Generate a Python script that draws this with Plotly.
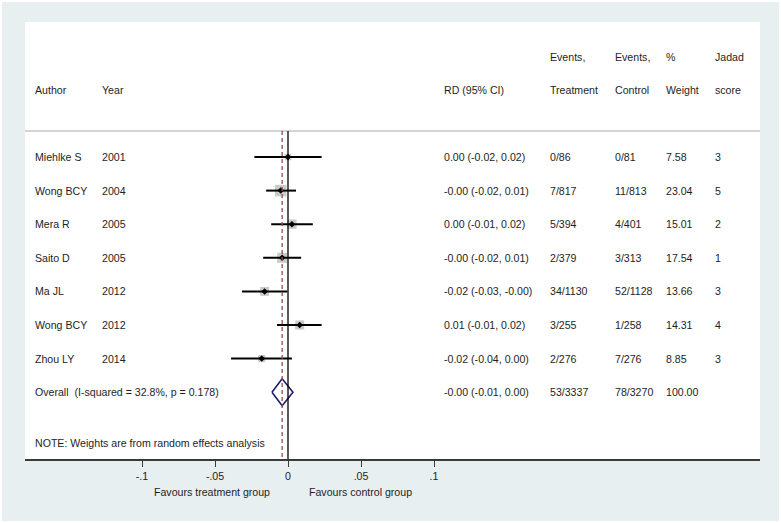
import plotly.graph_objects as go

# ---------------- data ----------------
authors = ["Miehlke S", "Wong BCY", "Mera R", "Saito D", "Ma JL", "Wong BCY", "Zhou LY"]
years = ["2001", "2004", "2005", "2005", "2012", "2012", "2014"]
rd = [0.000, -0.005, 0.0027, -0.0040, -0.016, 0.008, -0.018]
ci_lo = [-0.023, -0.015, -0.0115, -0.017, -0.0315, -0.0075, -0.039]
ci_hi = [0.023, 0.0055, 0.017, 0.009, -0.0005, 0.023, 0.0027]
rd_text = ["0.00 (-0.02, 0.02)", "-0.00 (-0.02, 0.01)", "0.00 (-0.01, 0.02)",
           "-0.00 (-0.02, 0.01)", "-0.02 (-0.03, -0.00)", "0.01 (-0.01, 0.02)",
           "-0.02 (-0.04, 0.00)"]
events_t = ["0/86", "7/817", "5/394", "2/379", "34/1130", "3/255", "2/276"]
events_c = ["0/81", "11/813", "4/401", "3/313", "52/1128", "1/258", "7/276"]
weights = [7.58, 23.04, 15.01, 17.54, 13.66, 14.31, 8.85]
jadad = ["3", "5", "2", "1", "3", "4", "3"]

overall_label = "Overall  (I-squared = 32.8%, p = 0.178)"
overall_rd = -0.004
overall_lo = -0.011
overall_hi = 0.0034
overall_text = "-0.00 (-0.01, 0.00)"
overall_t = "53/3337"
overall_c = "78/3270"
overall_w = "100.00"

tick_vals = [-0.1, -0.05, 0, 0.05, 0.1]
tick_text = ["-.1", "-.05", "0", ".05", ".1"]

note = "NOTE: Weights are from random effects analysis"
fav_left = "Favours treatment group"
fav_right = "Favours control group"

# ---------------- layout helpers ----------------
W, H = 781, 523
L, R, T, B = 25, 760, 22, 459          # plot area in pixels
X0_PX, SCALE = 288.0, 1460.0           # pixel of x=0, px per unit
ROW1_PX, PITCH = 157.0, 33.6           # pixel of row 1, px per row


def px2x(px):
    return (px - X0_PX) / SCALE


def py2row(py):
    return 1 + (py - ROW1_PX) / PITCH


def py2paper(py):
    return (B - py) / (B - T)


FONT = "Liberation Sans, Arial, sans-serif"
TXT = "#1e1e1e"
FS = 10.6

n = len(authors)
rows = list(range(1, n + 1))
overall_row = n + 1

col = {
    "author": px2x(33), "year": px2x(100), "rd": px2x(442),
    "t": px2x(548), "c": px2x(613), "w": px2x(664), "j": px2x(713),
}

fig = go.Figure()

# weight boxes
fig.add_trace(go.Scatter(
    x=rd, y=rows, mode="markers",
    marker=dict(symbol="square", size=[2.4 * w ** 0.5 for w in weights],
                color="#b3b3b3", line=dict(width=0)),
    hoverinfo="skip", showlegend=False))

# CI lines
cx, cy = [], []
for lo, hi, r in zip(ci_lo, ci_hi, rows):
    cx += [lo, hi, None]
    cy += [r, r, None]
fig.add_trace(go.Scatter(x=cx, y=cy, mode="lines",
                         line=dict(color="black", width=2),
                         hoverinfo="skip", showlegend=False))

# point estimates
fig.add_trace(go.Scatter(
    x=rd, y=rows, mode="markers",
    marker=dict(symbol="diamond", size=5, color="black"),
    hoverinfo="skip", showlegend=False))

# overall diamond
hh = 13.5 / PITCH
fig.add_trace(go.Scatter(
    x=[overall_lo, overall_rd, overall_hi, overall_rd, overall_lo],
    y=[overall_row, overall_row - hh, overall_row, overall_row + hh, overall_row],
    mode="lines", fill="toself", fillcolor="white",
    line=dict(color="#1c1c6a", width=1.6),
    hoverinfo="skip", showlegend=False))

# ---------------- shapes ----------------
line_row = py2row(131)
bottom_row = py2row(B)
shapes = [
    dict(type="line", xref="paper", yref="y", x0=0, x1=1, y0=line_row, y1=line_row,
         line=dict(color="#a8a8a8", width=1)),
    dict(type="line", xref="x", yref="y", x0=0, x1=0, y0=line_row, y1=bottom_row,
         line=dict(color="black", width=1.3)),
    dict(type="line", xref="x", yref="y", x0=overall_rd, x1=overall_rd,
         y0=line_row, y1=bottom_row,
         line=dict(color="#9a4a4a", width=1.3, dash="4px,3px")),
    # thin white frame around the whole image
    dict(type="rect", xref="paper", yref="paper",
         x0=(0 - L) / (R - L), x1=(W - L) / (R - L),
         y0=py2paper(H), y1=py2paper(0),
         line=dict(color="white", width=4), fillcolor="rgba(0,0,0,0)", layer="above"),
]

# ---------------- text ----------------
ann = []


def txt(x, y, s):
    ann.append(dict(x=x, y=y, xref="x", yref="y", text=s, showarrow=False,
                    xanchor="left", yanchor="middle",
                    font=dict(family=FONT, size=FS, color=TXT)))


hr1, hr2 = py2row(57), py2row(90)
txt(col["t"], hr1, "Events,")
txt(col["c"], hr1, "Events,")
txt(col["w"], hr1, "%")
txt(col["j"], hr1, "Jadad")
txt(col["author"], hr2, "Author")
txt(col["year"], hr2, "Year")
txt(col["rd"], hr2, "RD (95% CI)")
txt(col["t"], hr2, "Treatment")
txt(col["c"], hr2, "Control")
txt(col["w"], hr2, "Weight")
txt(col["j"], hr2, "score")

for i in range(n):
    r = rows[i]
    txt(col["author"], r, authors[i])
    txt(col["year"], r, years[i])
    txt(col["rd"], r, rd_text[i])
    txt(col["t"], r, events_t[i])
    txt(col["c"], r, events_c[i])
    txt(col["w"], r, f"{weights[i]:.2f}")
    txt(col["j"], r, jadad[i])

txt(col["author"], overall_row, overall_label)
txt(col["rd"], overall_row, overall_text)
txt(col["t"], overall_row, overall_t)
txt(col["c"], overall_row, overall_c)
txt(col["w"], overall_row, overall_w)

txt(col["author"], py2row(443), note)

for label, cpx in ((fav_left, 212), (fav_right, 360)):
    ann.append(dict(x=px2x(cpx), y=py2paper(492), xref="x", yref="paper", text=label,
                    showarrow=False, xanchor="center", yanchor="middle",
                    font=dict(family=FONT, size=FS, color=TXT)))

fig.update_layout(
    width=W, height=H,
    margin=dict(l=L, r=W - R, t=T, b=H - B, pad=0),
    paper_bgcolor="#e8eff1", plot_bgcolor="white",
    showlegend=False,
    shapes=shapes, annotations=ann,
    xaxis=dict(range=[px2x(L), px2x(R)], showgrid=False, zeroline=False,
               showline=True, linecolor="#3a3a3a", linewidth=1.6,
               ticks="outside", ticklen=6, tickcolor="#3a3a3a", tickwidth=1,
               tickvals=tick_vals, ticktext=tick_text,
               tickfont=dict(family=FONT, size=FS, color=TXT), fixedrange=True),
    yaxis=dict(range=[py2row(B), py2row(T)], showgrid=False, zeroline=False,
               showline=False, showticklabels=False, ticks="", fixedrange=True),
)

fig.write_html("out.html", config={"displayModeBar": False},
               post_script="document.body.style.margin='0px';")
